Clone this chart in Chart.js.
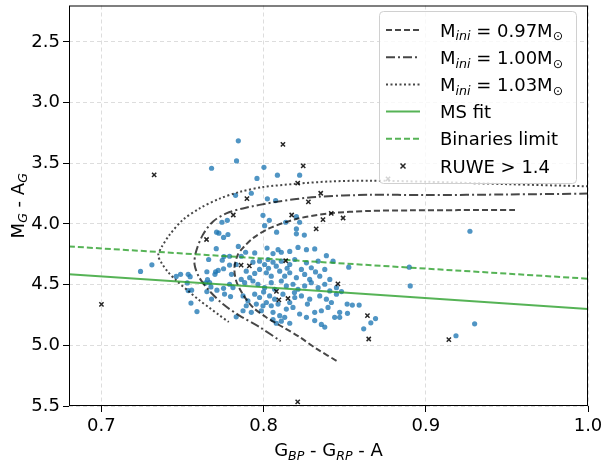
<!DOCTYPE html>
<html lang="en">
<head>
<meta charset="UTF-8">
<title>CMD with isochrones</title>
<script src="https://cdn.jsdelivr.net/npm/chart.js"></script>
<style>
  html, body { margin: 0; padding: 0; background: #fff; }
</style>
</head>
<body>
<canvas id="cmd" width="604" height="462"></canvas>
<script>
// axis ticks
var xTicks = [0.7, 0.8, 0.9, 1.0];
var yTicks = [2.5, 3.0, 3.5, 4.0, 4.5, 5.0, 5.5];

// cluster members (colour, magnitude)
var starColor = [
  0.7844, 0.7833, 0.7679, 0.8002, 0.8085, 0.8222, 0.7959, 0.7924, 0.7827, 0.8023,
  0.8074, 0.7996, 0.8035, 0.8006, 0.7776, 0.7743, 0.8202, 0.8222, 0.8136, 0.8080,
  0.8202, 0.8202, 0.8251, 0.7710, 0.7724, 0.7780, 0.7753, 0.7844, 0.7708, 0.7755,
  0.7790, 0.7661,
  0.7311, 0.7241, 0.7461, 0.7488, 0.7535, 0.7547, 0.7529, 0.7535, 0.7556, 0.7552,
  0.7589, 0.7650, 0.7704, 0.7720, 0.7700, 0.7753, 0.7745, 0.7790, 0.7802, 0.7654,
  0.7667, 0.7675, 0.7642, 0.7712, 0.7650, 0.7679, 0.7753, 0.7790, 0.7811, 0.7759,
  0.7796, 0.7831, 0.7831,
  0.8525, 0.8480, 0.8515, 0.8547, 0.8589, 0.8517, 0.8469, 0.8315, 0.8078, 0.8109,
  0.8161, 0.8356, 0.8377, 0.8617,
  0.7889, 0.7945, 0.8021, 0.8058, 0.8089, 0.8109, 0.8161, 0.8212, 0.8264, 0.8315,
  0.8387, 0.7862, 0.7934, 0.7975, 0.8006, 0.8027, 0.8058, 0.8078, 0.8109, 0.8161,
  0.8192, 0.8233, 0.8264, 0.8294, 0.8336, 0.8377, 0.8428, 0.7893, 0.7945, 0.7975,
  0.8017, 0.8047, 0.8099, 0.8130, 0.8161, 0.8202, 0.8253, 0.8284, 0.8346, 0.8408,
  0.7862, 0.7914, 0.7883, 0.7934, 0.7965, 0.8006, 0.8047, 0.8068, 0.8109, 0.8140,
  0.8181, 0.8212, 0.8253, 0.8294, 0.8336, 0.8377, 0.8408, 0.8449, 0.7873, 0.7903,
  0.7945, 0.7975, 0.8017, 0.8037, 0.8068, 0.8119, 0.8161, 0.8192, 0.8233, 0.8284,
  0.8346, 0.8387, 0.8418, 0.8449, 0.7893, 0.7955, 0.7996, 0.8047, 0.8089, 0.7873,
  0.7924, 0.7986, 0.8058, 0.8099, 0.8140, 0.8181, 0.8222, 0.8264, 0.8315, 0.8356,
  0.8397, 0.8438, 0.8469, 0.8130, 0.8058,
  0.8030, 0.8145, 0.8320, 0.8190, 0.8270, 0.8000,
  0.9272, 0.8898, 0.8904, 0.8661, 0.8690, 0.9301, 0.9186
];
var starMag = [
  3.315, 3.481, 3.541, 3.533, 3.598, 3.598, 3.625, 3.747, 3.764, 3.793,
  3.807, 3.929, 3.970, 4.014, 3.970, 3.986, 3.940, 3.986, 3.986, 4.068,
  4.041, 4.081, 4.092, 4.068, 4.076, 4.087, 4.111, 4.185, 4.204, 4.269,
  4.266, 4.293,
  4.337, 4.391, 4.432, 4.415, 4.415, 4.434, 4.486, 4.549, 4.546, 4.652,
  4.722, 4.394, 4.394, 4.383, 4.415, 4.369, 4.299, 4.339, 4.415, 4.459,
  4.483, 4.519, 4.486, 4.546, 4.557, 4.619, 4.530, 4.497, 4.524, 4.578,
  4.598, 4.334, 4.765,
  4.356, 4.557, 4.660, 4.668, 4.668, 4.736, 4.769, 4.796, 4.818, 4.801,
  4.818, 4.828, 4.850, 4.864,
  4.233, 4.239, 4.199, 4.244, 4.212, 4.233, 4.226, 4.193, 4.212, 4.206,
  4.261, 4.266, 4.315, 4.307, 4.334, 4.293, 4.315, 4.348, 4.307, 4.334,
  4.293, 4.375, 4.320, 4.361, 4.307, 4.375, 4.307, 4.389, 4.408, 4.375,
  4.402, 4.430, 4.389, 4.430, 4.402, 4.443, 4.416, 4.457, 4.430, 4.457,
  4.457, 4.443, 4.484, 4.470, 4.497, 4.525, 4.484, 4.538, 4.470, 4.511,
  4.497, 4.538, 4.511, 4.484, 4.525, 4.497, 4.552, 4.525, 4.593, 4.633,
  4.579, 4.606, 4.647, 4.593, 4.620, 4.579, 4.647, 4.606, 4.593, 4.620,
  4.593, 4.620, 4.647, 4.579, 4.674, 4.660, 4.674, 4.674, 4.660, 4.715,
  4.728, 4.715, 4.728, 4.756, 4.701, 4.688, 4.742, 4.769, 4.728, 4.715,
  4.688, 4.769, 4.728, 4.769, 4.788,
  4.365, 4.365, 4.395, 4.565, 4.660, 4.560,
  4.060, 4.356, 4.511, 4.815, 4.780, 4.823, 4.921
];

// stars with RUWE > 1.4
var ruweColor = [
  0.7325, 0.8119, 0.8244, 0.8210, 0.8352, 0.7897, 0.8276, 0.7813, 0.8173, 0.8417,
  0.8366, 0.8490, 0.8324, 0.7648, 0.8136, 0.7861, 0.7912, 0.8458, 0.8079, 0.8094,
  0.8150, 0.8640, 0.8648, 0.9142, 0.7000, 0.8210, 0.8767
];
var ruweMag = [
  3.595, 3.345, 3.522, 3.663, 3.747, 3.791, 3.818, 3.926, 3.926, 3.913,
  3.965, 3.951, 4.040, 4.128, 4.303, 4.339, 4.346, 4.493, 4.555, 4.625,
  4.614, 4.755, 4.948, 4.953, 4.663, 5.466, 3.628
];

// isochrone tracks
var trk097Color = [0.955, 0.920, 0.890, 0.865, 0.8407, 0.8202, 0.8037, 0.7934, 0.7872, 0.7841,
  0.7820, 0.7831, 0.7872, 0.7934, 0.8016, 0.8119, 0.8222, 0.8325, 0.846];
var trk097Mag = [3.885, 3.886, 3.888, 3.893, 3.913, 3.959, 4.035, 4.117, 4.198, 4.253,
  4.361, 4.470, 4.579, 4.687, 4.769, 4.850, 4.932, 5.027, 5.136];

var trk100Color = [1.0, 0.95, 0.90, 0.8654, 0.8325, 0.8078, 0.7872, 0.7770, 0.7687, 0.7625,
  0.7584, 0.7574, 0.7604, 0.7666, 0.7749, 0.7851, 0.7975, 0.8105];
var trk100Mag = [3.750, 3.757, 3.762, 3.760, 3.777, 3.818, 3.872, 3.913, 3.981, 4.090,
  4.225, 4.334, 4.443, 4.551, 4.660, 4.755, 4.850, 4.965];

var trk103Color = [1.0, 0.95, 0.90, 0.8654, 0.8408, 0.8202, 0.7996, 0.7852, 0.7729, 0.7605,
  0.7502, 0.7420, 0.7368, 0.7350, 0.7370, 0.7410, 0.7465, 0.7533, 0.7600, 0.7665,
  0.7725, 0.7785];
var trk103Mag = [3.690, 3.672, 3.652, 3.643, 3.650, 3.669, 3.696, 3.736, 3.791, 3.872,
  3.967, 4.090, 4.198, 4.260, 4.320, 4.395, 4.470, 4.550, 4.625, 4.690,
  4.750, 4.808];

// main sequence fit and binaries limit
var fitColor = [0.68, 1.0];
var msFitMag = [4.415, 4.700];
var binLimitMag = [4.185, 4.451];

var FONT = "'DejaVu Sans', sans-serif";
var FS = 18;
var TRACK = 'rgba(0,0,0,0.72)';
var GREEN = 'rgba(44,160,44,0.8)';
var BLUE = 'rgba(31,119,180,0.78)';

function pts(xs, ys) {
  return xs.map(function (x, i) { return { x: x, y: ys[i] }; });
}

// text with sub-scripts: parts = [[text, sub, italic], ...]
function richWidth(ctx, parts, size) {
  var w = 0;
  parts.forEach(function (p) {
    ctx.font = (p[2] ? 'italic ' : '') + (p[1] ? size * 0.7 : size) + 'px ' + FONT;
    w += ctx.measureText(p[0]).width;
  });
  return w;
}
function drawRich(ctx, parts, x, base, size) {
  ctx.textAlign = 'left';
  ctx.textBaseline = 'alphabetic';
  parts.forEach(function (p) {
    ctx.font = (p[2] ? 'italic ' : '') + (p[1] ? size * 0.7 : size) + 'px ' + FONT;
    ctx.fillText(p[0], x, base + (p[1] ? size * 0.22 : 0));
    x += ctx.measureText(p[0]).width;
  });
}

var legendRows = [
  { kind: 'line', color: TRACK, dash: [6, 3], text: [['M'], ['ini', 1, 1], [' = 0.97M'], ['\u2299', 1]] },
  { kind: 'line', color: TRACK, dash: [9, 3, 2, 3], text: [['M'], ['ini', 1, 1], [' = 1.00M'], ['\u2299', 1]] },
  { kind: 'line', color: TRACK, dash: [2, 2.5], text: [['M'], ['ini', 1, 1], [' = 1.03M'], ['\u2299', 1]] },
  { kind: 'line', color: GREEN, dash: [], text: [['MS fit']] },
  { kind: 'line', color: GREEN, dash: [6, 3], text: [['Binaries limit']] },
  { kind: 'cross', color: 'rgba(0,0,0,0.85)', text: [['RUWE > 1.4']] }
];

var decorPlugin = {
  id: 'decor',
  afterDraw: function (chart) {
    var ctx = chart.ctx, a = chart.chartArea;
    ctx.save();
    // frame
    ctx.strokeStyle = '#000';
    ctx.lineWidth = 1;
    ctx.setLineDash([]);
    ctx.strokeRect(a.left + 0.5, a.top + 0.5, a.right - a.left - 1, a.bottom - a.top - 1);

    // legend box
    ctx.beginPath();
    ctx.roundRect(379.5, 11.5, 197, 172, 4);
    ctx.fillStyle = 'rgba(255,255,255,0.8)';
    ctx.fill();
    ctx.strokeStyle = '#d0d0d0';
    ctx.stroke();

    legendRows.forEach(function (r, i) {
      var cy = 30 + 27.2 * i;
      if (r.kind === 'line') {
        ctx.strokeStyle = r.color;
        ctx.lineWidth = 2;
        ctx.setLineDash(r.dash);
        ctx.beginPath();
        ctx.moveTo(386, cy);
        ctx.lineTo(420, cy);
        ctx.stroke();
        ctx.setLineDash([]);
      } else {
        ctx.strokeStyle = r.color;
        ctx.lineWidth = 1.5;
        ctx.beginPath();
        ctx.moveTo(400.5, cy - 2.5); ctx.lineTo(405.5, cy + 2.5);
        ctx.moveTo(405.5, cy - 2.5); ctx.lineTo(400.5, cy + 2.5);
        ctx.stroke();
      }
      ctx.fillStyle = '#000';
      drawRich(ctx, r.text, 440, cy + 6.5, FS);
    });

    // axis titles
    ctx.fillStyle = '#000';
    var xt = [['G'], ['BP', 1, 1], [' - G'], ['RP', 1, 1], [' - A']];
    var w = richWidth(ctx, xt, FS);
    drawRich(ctx, xt, (a.left + a.right) / 2 - w / 2, 456, FS);

    var yt = [['M'], ['G', 1, 1], [' - A'], ['G', 1, 1]];
    w = richWidth(ctx, yt, FS);
    ctx.translate(17, (a.top + a.bottom) / 2);
    ctx.rotate(-Math.PI / 2);
    drawRich(ctx, yt, -w / 2, 6.5, FS);
    ctx.restore();
  }
};

var lineDs = function (label, xs, ys, color, dash, order) {
  return {
    label: label, data: pts(xs, ys), showLine: true, pointRadius: 0,
    borderColor: color, borderWidth: 2, borderDash: dash, tension: 0.3,
    fill: false, order: order
  };
};

new Chart(document.getElementById('cmd'), {
  type: 'scatter',
  data: {
    datasets: [
      { label: 'members', data: pts(starColor, starMag), pointRadius: 2.6,
        backgroundColor: BLUE, borderWidth: 0, order: 6 },
      lineDs('M_ini = 0.97', trk097Color, trk097Mag, TRACK, [6, 3], 4),
      lineDs('M_ini = 1.00', trk100Color, trk100Mag, TRACK, [9, 3, 2, 3], 4),
      lineDs('M_ini = 1.03', trk103Color, trk103Mag, TRACK, [2, 2.5], 4),
      lineDs('MS fit', fitColor, msFitMag, GREEN, [], 3),
      lineDs('Binaries limit', fitColor, binLimitMag, GREEN, [6, 3], 3),
      { label: 'RUWE > 1.4', data: pts(ruweColor, ruweMag), pointStyle: 'crossRot',
        pointRadius: 3, borderWidth: 1.5, borderColor: 'rgba(0,0,0,0.85)', order: 2 }
    ]
  },
  options: {
    responsive: false,
    animation: false,
    layout: { padding: { top: 2, right: 16, left: 0, bottom: 0 } },
    plugins: { legend: { display: false }, tooltip: { enabled: false } },
    scales: {
      x: {
        type: 'linear', min: 0.68, max: 1.0,
        afterBuildTicks: function (s) { s.ticks = xTicks.map(function (v) { return { value: v }; }); },
        afterFit: function (s) { s.height = 56; s.paddingLeft = 0; s.paddingRight = 0; },
        ticks: {
          callback: function (v) { return v.toFixed(1); },
          font: { family: FONT, size: FS }, color: '#000', padding: 4, maxRotation: 0, autoSkip: false
        },
        grid: { color: 'rgba(170,170,170,0.4)', tickColor: '#000', tickLength: 6, tickWidth: 1, tickBorderDash: [] },
        border: { display: false, dash: [4, 3] }
      },
      y: {
        type: 'linear', reverse: true, min: 2.2, max: 5.5,
        afterBuildTicks: function (s) { s.ticks = yTicks.map(function (v) { return { value: v }; }); },
        afterFit: function (s) { s.width = 69; s.paddingTop = 0; s.paddingBottom = 0; },
        ticks: {
          callback: function (v) { return v.toFixed(1); },
          font: { family: FONT, size: FS }, color: '#000', padding: 3, autoSkip: false
        },
        grid: { color: 'rgba(170,170,170,0.4)', tickColor: '#000', tickLength: 6, tickWidth: 1, tickBorderDash: [] },
        border: { display: false, dash: [4, 3] }
      }
    }
  },
  plugins: [decorPlugin]
});
</script>
</body>
</html>
